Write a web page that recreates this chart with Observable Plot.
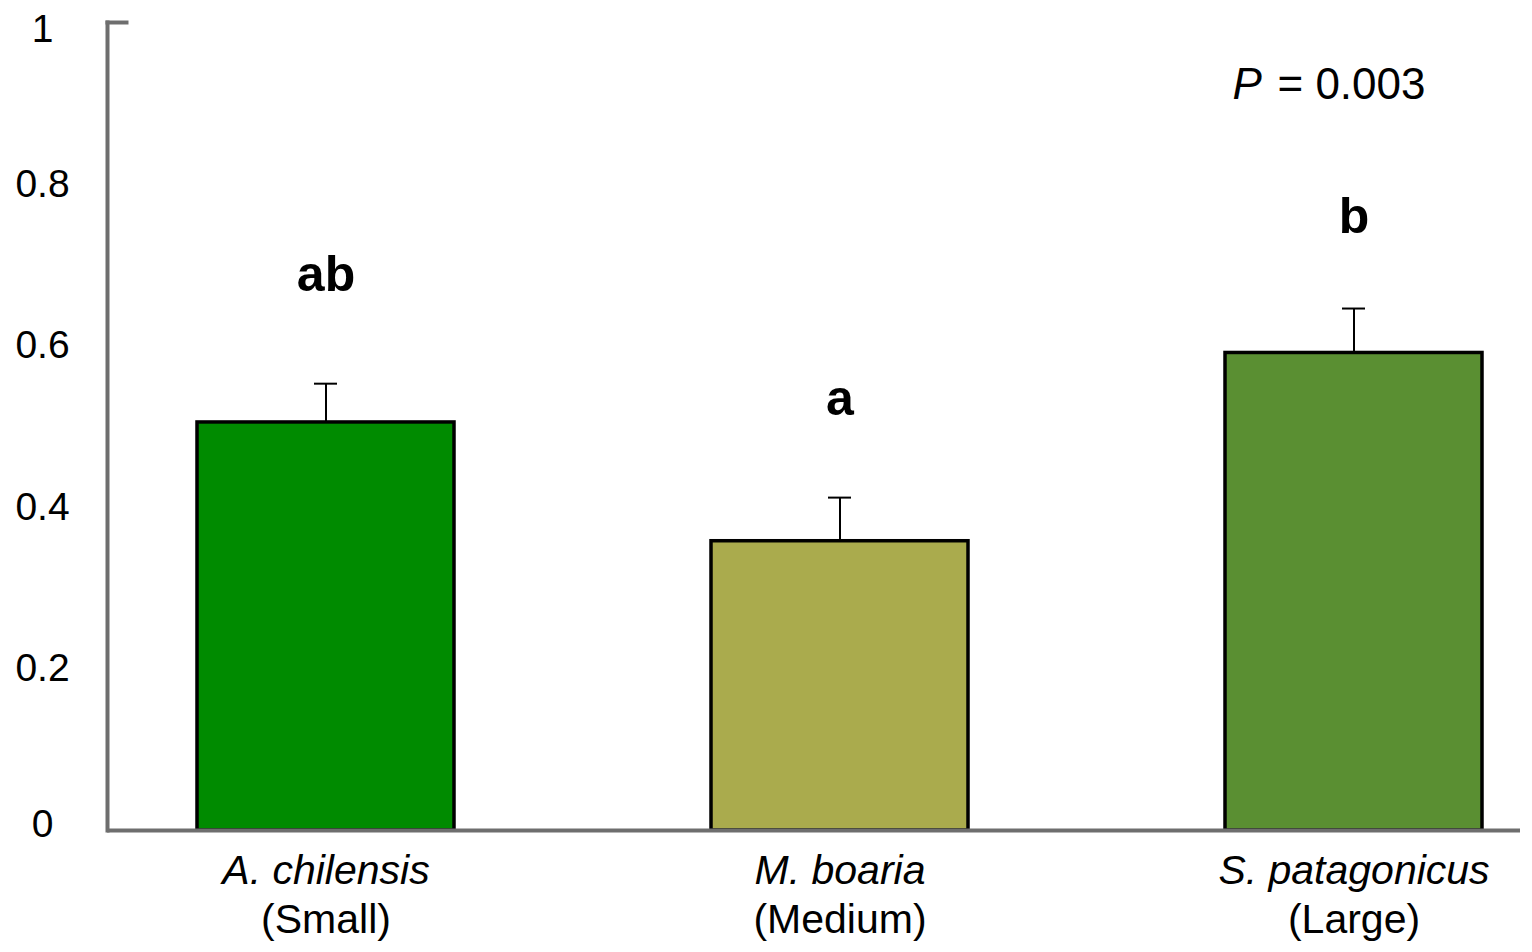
<!DOCTYPE html>
<html>
<head>
<meta charset="utf-8">
<script src="https://cdn.jsdelivr.net/npm/d3@7"></script>
<script src="https://cdn.jsdelivr.net/npm/@observablehq/plot@0.6"></script>
<style>
  html, body { margin: 0; padding: 0; background: #fff; }
  #chart svg { display: block; }
</style>
</head>
<body>
<div id="chart"></div>
<script>
const species = ["A. chilensis", "M. boaria", "S. patagonicus"];
const sizeClass = ["(Small)", "(Medium)", "(Large)"];
const means = [0.505, 0.358, 0.591];
const se = [0.048, 0.054, 0.055];
const letters = ["ab", "a", "b"];
const letterY = [0.668, 0.514, 0.739];
const barColors = ["#008b00", "#aaab4d", "#5a8f32"];
const yTicksLow = [0];
const yTicksMid = [0.2, 0.4, 0.6, 0.8];
const yTicksTop = [1];
const pSymbol = "P";
const pText = "= 0.003";

const data = species.map((s, i) => ({
  species: s,
  size: sizeClass[i],
  mean: means[i],
  upper: means[i] + se[i],
  letter: letters[i],
  ly: letterY[i],
  color: barColors[i]
}));

const axisGray = "#6e6e6e";
const font = "'Liberation Sans', Arial, Helvetica, sans-serif";
const tickOpts = { tickSize: 0, tickPadding: 65, textAnchor: "middle", fontSize: 39, tickFormat: d => String(d), fill: "black" };

const chart = Plot.plot({
  width: 1532,
  height: 952,
  marginLeft: 107,
  marginRight: 12,
  marginTop: 22,
  marginBottom: 122,
  style: { fontFamily: font, color: "black", background: "white" },
  x: { domain: species, range: [68, 1610], paddingInner: 0.5, paddingOuter: 0.25, axis: null },
  y: { domain: [0, 1], axis: null },
  color: { type: "identity" },
  marks: [
    Plot.barY(data, { x: "species", y: "mean", fill: "color", stroke: "black", strokeWidth: 3.5 }),
    Plot.ruleX(data, { x: "species", y1: "mean", y2: "upper", stroke: "black", strokeWidth: 2 }),
    Plot.tickY(data, { x: "species", y: "upper", stroke: "black", strokeWidth: 2, insetLeft: 117, insetRight: 117 }),
    Plot.text(data, { x: "species", y: "ly", text: "letter", fontWeight: "bold", fontSize: 50, lineAnchor: "bottom", fill: "black" }),
    Plot.axisY({ ...tickOpts, ticks: yTicksLow, dy: -6 }),
    Plot.axisY({ ...tickOpts, ticks: yTicksMid, dy: 0 }),
    Plot.axisY({ ...tickOpts, ticks: yTicksTop, dy: 7 }),
    Plot.text(data, { x: "species", text: "species", frameAnchor: "bottom", dy: 53, lineAnchor: "bottom", fontStyle: "italic", fontSize: 41, fill: "black" }),
    Plot.text(data, { x: "species", text: "size", frameAnchor: "bottom", dy: 102, lineAnchor: "bottom", fontSize: 41, fill: "black" }),
    Plot.text([pSymbol], { text: d => d, frameAnchor: "top-left", dx: 1125, dy: 76, lineAnchor: "bottom", textAnchor: "start", fontStyle: "italic", fontSize: 44, fill: "black" }),
    Plot.text([pText], { text: d => d, frameAnchor: "top-right", dx: -95, dy: 76, lineAnchor: "bottom", textAnchor: "end", fontSize: 44, fill: "black" }),
    Plot.ruleY([0], { stroke: axisGray, strokeWidth: 4 }),
    Plot.frame({ anchor: "left", stroke: axisGray, strokeWidth: 4 }),
    Plot.frame({ anchor: "top", stroke: axisGray, strokeWidth: 4, insetRight: 1394 })
  ]
});

document.getElementById("chart").appendChild(chart);
</script>
</body>
</html>
